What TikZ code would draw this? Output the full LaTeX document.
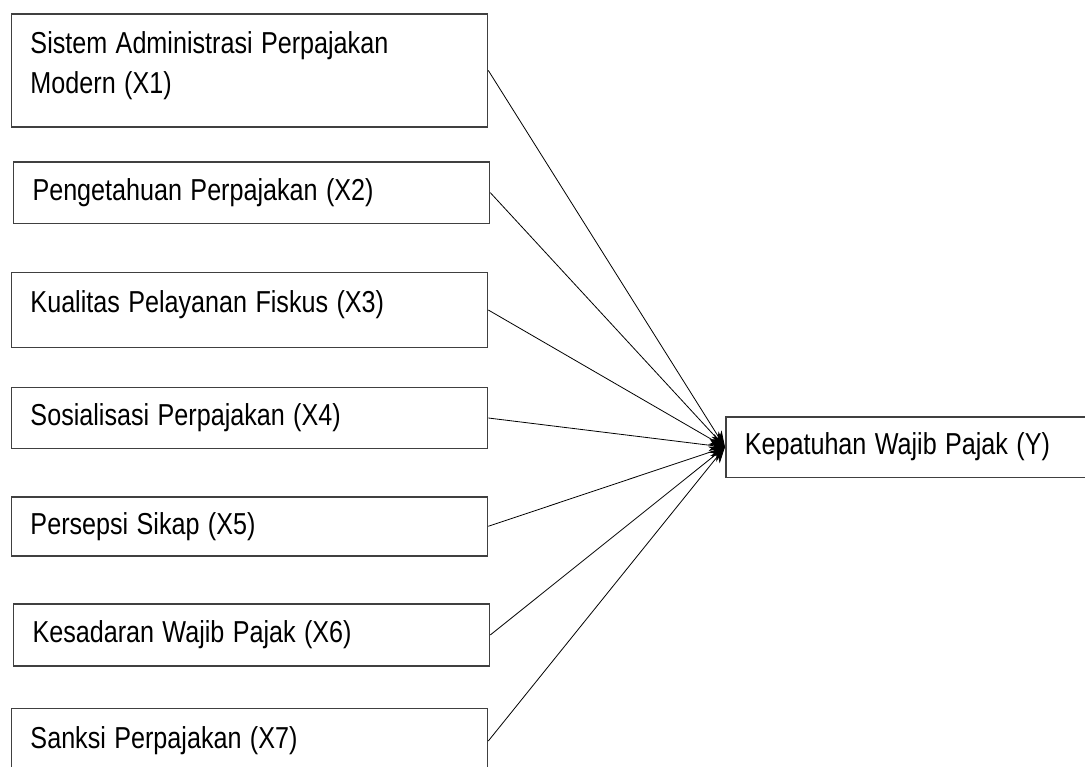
\documentclass[tikz,border=0pt]{standalone}
\usepackage{graphicx}
\usepackage{fontspec}
\setmainfont{Liberation Sans}
\usetikzlibrary{arrows.meta}

% teks dipersempit (mirip Arial Narrow)
\newcommand{\sempit}[1]{\scalebox{0.83}[1]{#1}}

\begin{document}
\begin{tikzpicture}[x=1pt, y=-1pt, >={Stealth[length=16pt, width=12pt]},
    varbox/.style={draw=black!75, line width=1.6pt, anchor=north west, minimum width=476pt,
        inner xsep=19pt, text width=438pt, align=left, font=\fontsize{30.3}{40}\selectfont}]

    \useasboundingbox (0,0) rectangle (1085,767);

    % kotak variabel bebas (X1 - X7)
    \foreach \vname/\xx/\yy/\hh/\dd/\vtext in {
        x1/10.7/13.3/112.7/56/{\sempit{Sistem Administrasi Perpajakan}\\\sempit{Modern (X1)}},
        x2/12.7/161/61.7/6.4/{\sempit{Pengetahuan Perpajakan (X2)}},
        x3/10.7/271.7/75/16/{\sempit{Kualitas Pelayanan Fiskus (X3)}},
        x4/10.7/386.7/61/6.4/{\sempit{Sosialisasi Perpajakan (X4)}},
        x5/10.7/496/59/6.4/{\sempit{Persepsi Sikap (X5)}},
        x6/12.7/603.3/61.7/6.4/{\sempit{Kesadaran Wajib Pajak (X6)}},
        x7/10.7/707.7/65/6.4/{\sempit{Sanksi Perpajakan (X7)}}}
        \node[varbox, minimum height=\hh pt, text depth=\dd pt] (\vname) at (\xx,\yy) {\vtext};

    % variabel terikat
    \node[varbox, minimum height=60.7pt, minimum width=400pt, text width=362pt] (y) at (725,416) {\sempit{Kepatuhan Wajib Pajak (Y)}};

    \foreach \i in {1,...,7}
        \draw[->, line width=0.8pt] (x\i.east) -- (y.west);

\end{tikzpicture}
\end{document}
